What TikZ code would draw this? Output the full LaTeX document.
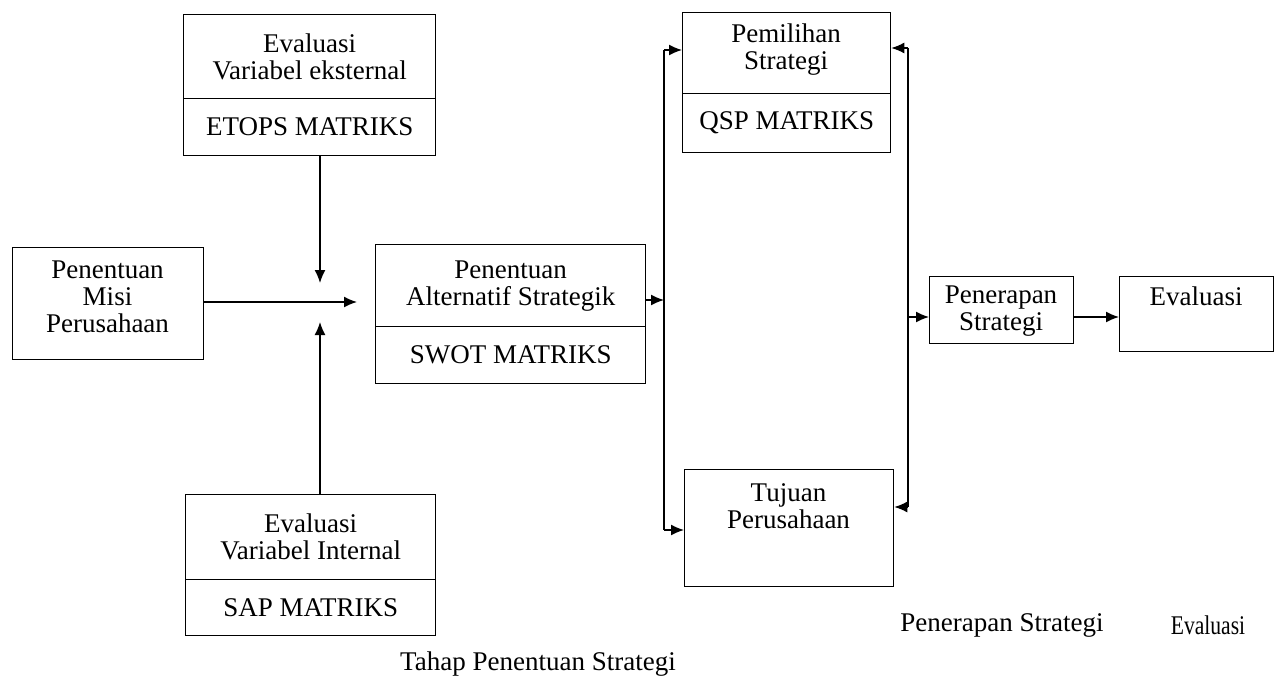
\documentclass[tikz,border=0pt]{standalone}
\usepackage{fontspec}
\setmainfont{Liberation Serif}
\usetikzlibrary{arrows.meta}
\begin{document}
\begin{tikzpicture}[x=1pt,y=-1pt,
  cell/.style={draw=black,line width=1.3pt,rectangle,inner sep=0pt,anchor=north west},
  lbl/.style={align=center,inner sep=0pt,font=\fontsize{27}{27}\selectfont},
  note/.style={inner sep=0pt,font=\fontsize{27}{27}\selectfont},
  link/.style={line width=1.4pt},
  arr/.style={line width=1.4pt,-{Latex[length=13pt,width=11pt]}}]
\useasboundingbox (0,0) rectangle (1285,687);

% external evaluation box (two cells)
\node[cell,minimum width=252pt,minimum height=84pt] (etopsA) at (183,14) {};
\node[cell,minimum width=252pt,minimum height=57pt] (etopsB) at (183,98) {};
\node[lbl] (etopsAt) at (etopsA.center) {Evaluasi\\Variabel eksternal};
\node[lbl] (etopsBt) at (etopsB.center) {ETOPS MATRIKS};

% mission box
\node[cell,minimum width=191pt,minimum height=112pt] (misi) at (12,247) {};
\node[lbl] (misit) at (107.5,297) {Penentuan\\Misi\\Perusahaan};

% internal evaluation box (two cells)
\node[cell,minimum width=250pt,minimum height=85pt] (sapA) at (185,494) {};
\node[cell,minimum width=250pt,minimum height=56pt] (sapB) at (185,579) {};
\node[lbl] (sapAt) at (sapA.center) {Evaluasi\\Variabel Internal};
\node[lbl] (sapBt) at (sapB.center) {SAP MATRIKS};

% strategic alternatives box (two cells)
\node[cell,minimum width=270pt,minimum height=82pt] (swotA) at (375,244) {};
\node[cell,minimum width=270pt,minimum height=57pt] (swotB) at (375,326) {};
\node[lbl] (swotAt) at (swotA.center) {Penentuan\\Alternatif Strategik};
\node[lbl] (swotBt) at (swotB.center) {SWOT MATRIKS};

% strategy choice box (two cells)
\node[cell,minimum width=208pt,minimum height=81pt] (qspA) at (682,12) {};
\node[cell,minimum width=208pt,minimum height=59pt] (qspB) at (682,93) {};
\node[lbl] (qspAt) at (786,50) {Pemilihan\\Strategi};
\node[lbl] (qspBt) at (qspB.center) {QSP MATRIKS};

% company goals box
\node[cell,minimum width=209pt,minimum height=117pt] (tujuan) at (684,469) {};
\node[lbl] (tujuant) at (788.5,506) {Tujuan\\Perusahaan};

% implementation and evaluation boxes
\node[cell,minimum width=144pt,minimum height=67pt] (terap) at (929,276) {};
\node[lbl] (terapt) at (1001,311) {Penerapan\\Strategi};
\node[cell,minimum width=154pt,minimum height=75pt] (eval) at (1119,276) {};
\node[lbl] (evalt) at (1196,296) {Evaluasi};

% junction points
\coordinate (merge) at (357,302);
\coordinate (fromtop) at (320,283);
\coordinate (frombot) at (320,322);
\coordinate (busLin) at (664,300);
\coordinate (busLtop) at (664,50);
\coordinate (busLbot) at (664,530);
\coordinate (busRtop) at (908,48);
\coordinate (busRbot) at (908,507);
\coordinate (busRout) at (908,317);

% connectors into the strategic alternatives stage
\draw[arr] (misi.east |- merge) -- (merge);
\draw[arr] (etopsB.south -| fromtop) -- (fromtop);
\draw[arr] (sapA.north -| frombot) -- (frombot);
\draw[arr] (swotA.east |- busLin) -- (busLin);

% left bus to choice and goals
\draw[link] (busLtop) -- (busLbot);
\draw[arr] (busLtop) -- (qspA.west |- busLtop);
\draw[arr] (busLbot) -- (tujuan.west |- busLbot);

% right bus back from implementation
\draw[link] (busRtop) -- (busRbot);
\draw[arr] (busRtop) -- (qspA.east |- busRtop);
\draw[arr] (busRbot) -- (tujuan.east |- busRbot);
\draw[arr] (busRout) -- (terap.west |- busRout);
\draw[arr] (terap.east |- busRout) -- (eval.west |- busRout);

% stage captions
\node[note,anchor=west] (cap1) at (400,664) {Tahap Penentuan Strategi};
\node[note] (cap2) at (1002,625) {Penerapan Strategi};
\node[note] (cap3) at (1208,625) {\scalebox{0.8}[1]{Evaluasi}};
\end{tikzpicture}
\end{document}
